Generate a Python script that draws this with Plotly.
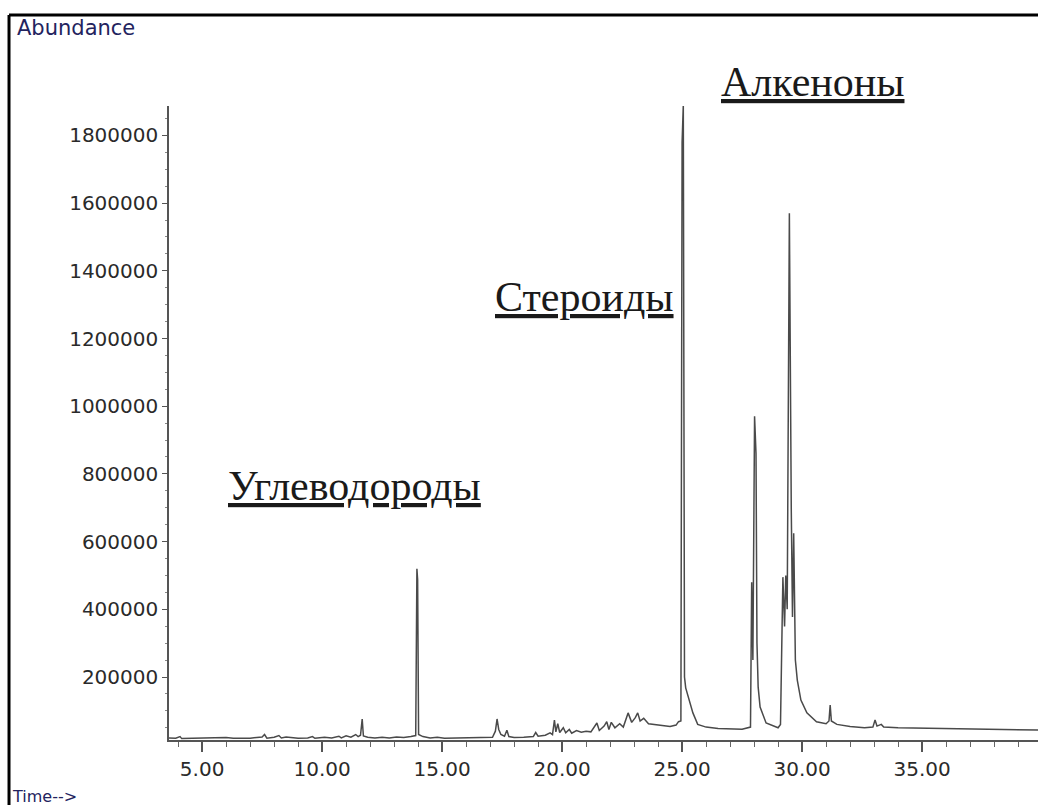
import plotly.graph_objects as go

# Retention time (min) and abundance
time = [3.62, 3.9, 4.08, 4.15, 4.6, 5.2, 5.6, 6.0, 6.3, 6.8, 7.0, 7.5, 7.6, 7.7, 8.0, 8.2, 8.3, 8.5,
        8.7, 9.0, 9.4, 9.6, 9.7, 10.1, 10.4, 10.7, 10.8, 11.0, 11.2, 11.4, 11.5, 11.6, 11.67, 11.72,
        11.9, 12.2, 12.5, 12.8, 13.1, 13.4, 13.7, 13.9, 13.95, 13.98, 14.02, 14.2, 14.5, 14.8, 15.1,
        15.5, 15.9, 16.3, 16.7, 17.1, 17.22, 17.29, 17.36, 17.45, 17.6, 17.7, 17.78, 18.0, 18.4, 18.8,
        18.9, 19.0, 19.3, 19.5, 19.6, 19.68, 19.74, 19.82, 19.9, 20.05, 20.15, 20.3, 20.4, 20.6, 20.8,
        21.0, 21.2, 21.45, 21.55, 21.75, 21.86, 21.95, 22.05, 22.2, 22.4, 22.55, 22.75, 22.9, 23.05,
        23.15, 23.25, 23.4, 23.6, 23.9, 24.2, 24.5, 24.75, 24.85, 24.95, 25.0, 25.05, 25.1, 25.15,
        25.3, 25.45, 25.65, 26.0, 26.5, 27.0, 27.5, 27.85, 27.9, 27.95, 28.02, 28.08, 28.12, 28.17,
        28.25, 28.5, 29.0, 29.1, 29.2, 29.27, 29.32, 29.38, 29.47, 29.55, 29.6, 29.65, 29.72, 29.8,
        29.95, 30.2, 30.6, 31.0, 31.12, 31.17, 31.22, 31.45, 32.0, 32.6, 32.95, 33.04, 33.12, 33.3,
        33.4, 34.0, 35.0, 36.0, 37.0, 38.0, 39.0, 39.9]
abundance = [20000, 19000, 24000, 18000, 19000, 20000, 19500, 21000, 19000, 20500, 19000, 23000, 30000,
             19000, 22000, 27000, 20000, 23000, 21000, 19000, 20000, 24000, 19000, 22000, 20000, 25000,
             20000, 26000, 22000, 30000, 24000, 28000, 76000, 26000, 22000, 20000, 22000, 20000, 23000,
             21000, 24000, 27000, 520000, 487000, 30000, 24000, 20000, 22000, 19000, 20000, 21000, 20000,
             21000, 22000, 40000, 76000, 45000, 30000, 25000, 43000, 24000, 21000, 22000, 24000, 36000,
             25000, 28000, 35000, 30000, 73000, 38000, 62000, 36000, 50000, 35000, 45000, 34000, 42000,
             37000, 40000, 38000, 64000, 42000, 55000, 68000, 45000, 66000, 50000, 62000, 52000, 94000,
             66000, 80000, 94000, 70000, 78000, 62000, 60000, 56000, 54000, 58000, 68000, 70000, 1780000,
             1890000, 200000, 168000, 132000, 94000, 60000, 52000, 48000, 47000, 46000, 52000, 480000,
             250000, 970000, 860000, 300000, 170000, 111000, 64000, 50000, 60000, 495000, 349000, 500000,
             400000, 1570000, 690000, 377000, 625000, 250000, 191000, 132000, 94000, 68000, 62000, 70000,
             117000, 70000, 60000, 54000, 50000, 52000, 73000, 55000, 60000, 52000, 50000, 49000, 47000,
             46000, 45000, 44000, 43000]

y_ticks = [200000, 400000, 600000, 800000, 1000000, 1200000, 1400000, 1600000, 1800000]
y_tick_labels = ["200000", "400000", "600000", "800000", "1000000", "1200000", "1400000",
                 "1600000", "1800000"]
x_ticks = [5, 10, 15, 20, 25, 30, 35]
x_tick_labels = ["5.00", "10.00", "15.00", "20.00", "25.00", "30.00", "35.00"]

groups = ["Углеводороды", "Стероиды", "Алкеноны"]
group_x = [0.214, 0.4776, 0.741]
group_y = [0.4006, 0.6987, 1.0379]

fig = go.Figure()
fig.add_trace(go.Scatter(x=time, y=abundance, mode="lines",
                         line=dict(color="#4a4a4a", width=1.5), hoverinfo="skip",
                         showlegend=False))

tick_font = dict(family="DejaVu Sans", size=20, color="#2a2a2a")

fig.update_layout(
    width=1038, height=805,
    margin=dict(l=169, r=0, t=106, b=65),
    paper_bgcolor="white", plot_bgcolor="white",
    showlegend=False,
    xaxis=dict(range=[3.62, 39.83], tickvals=x_ticks, ticktext=x_tick_labels,
               showgrid=False, zeroline=False, showline=True, linecolor="#555555", linewidth=1.5,
               ticks="outside", ticklen=10, tickwidth=1.5, tickcolor="#555555",
               minor=dict(dtick=1, tick0=0, ticks="outside", ticklen=5, tickwidth=1.2,
                          tickcolor="#666666", showgrid=False),
               tickfont=tick_font),
    yaxis=dict(range=[13900, 1886900], tickvals=y_ticks, ticktext=y_tick_labels,
               showgrid=False, zeroline=False, showline=True, linecolor="#555555", linewidth=1.5,
               ticks="outside", ticklen=5, tickwidth=1.2, tickcolor="#555555",
               minor=dict(dtick=50000, ticks="outside", ticklen=2, tickwidth=1,
                          tickcolor="#888888", showgrid=False),
               tickfont=tick_font),
)

for name, gx, gy in zip(groups, group_x, group_y):
    fig.add_annotation(x=gx, y=gy, xref="paper", yref="paper", text="<u>" + name + "</u>",
                       showarrow=False, xanchor="center", yanchor="middle",
                       font=dict(family="Liberation Serif", size=42, color="#1a1a1a"))

fig.add_annotation(x=-0.177, y=1.123, xref="paper", yref="paper", text="Abundance",
                   showarrow=False, xanchor="left", yanchor="middle",
                   font=dict(family="DejaVu Sans", size=21, color="#23235e"))
fig.add_annotation(x=-0.183, y=-0.0899, xref="paper", yref="paper", text="Time-->",
                   showarrow=False, xanchor="left", yanchor="middle",
                   font=dict(family="DejaVu Sans", size=16, color="#23235e"))

# frame of the original figure (top and left edges)
fig.add_shape(type="line", xref="paper", yref="paper", x0=-0.1841, x1=1.0, y0=1.1435, y1=1.1435,
              line=dict(color="black", width=3))
fig.add_shape(type="line", xref="paper", yref="paper", x0=-0.1841, x1=-0.1841, y0=1.1435, y1=-0.11,
              line=dict(color="black", width=3))

fig.write_html("out.html")
